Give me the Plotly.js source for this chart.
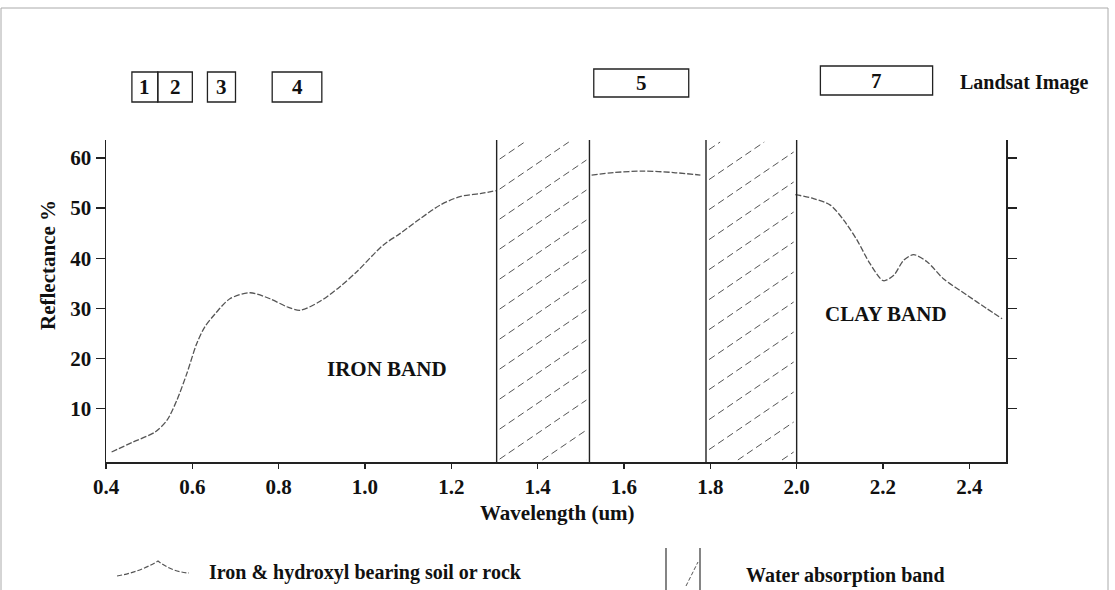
<!DOCTYPE html>
<html><head><meta charset="utf-8">
<script src="https://cdn.plot.ly/plotly-3.0.1.min.js"></script>
<style>html,body{margin:0;padding:0;background:#fff}#chart{width:1115px;height:590px}</style>
</head><body><div id="chart"></div>
<script>
// ---- data ----
const curveWavelength = [0.413,0.463,0.514,0.541,0.564,0.587,0.610,0.629,0.653,0.687,0.734,0.780,0.819,0.850,0.896,0.942,0.981,1.042,1.081,1.128,1.174,1.220,1.267,1.305,
  null,
  1.525,1.576,1.645,1.715,1.777,
  null,
  1.997,2.039,2.078,2.109,2.140,2.170,2.201,2.225,2.248,2.271,2.302,2.340,2.395,2.441,2.476];
const curveReflectance = [1.3,3.3,5.3,7.6,11.6,16.9,22.9,26.3,28.9,31.9,33.1,31.9,30.3,29.6,31.4,34.3,37.3,42.6,44.9,47.9,50.6,52.3,52.9,53.5,
  null,
  56.6,57.1,57.4,57.1,56.6,
  null,
  52.7,51.9,50.6,47.6,43.6,38.9,35.5,36.6,39.6,40.7,39.3,35.9,32.6,29.9,27.9];
const waterBandStart = [1.305, 1.79];
const waterBandEnd   = [1.52, 2.0];
const landsatBands = ['1','2','3','4','5','7'];
const landsatStart = [0.46, 0.52, 0.635, 0.785, 1.53, 2.055];
const landsatEnd   = [0.52, 0.60, 0.70, 0.90, 1.75, 2.315];
const xTickVals = [0.4,0.6,0.8,1.0,1.2,1.4,1.6,1.8,2.0,2.2,2.4];
const xTickText = ['0.4','0.6','0.8','1.0','1.2','1.4','1.6','1.8','2.0','2.2','2.4'];
const yTickVals = [10,20,30,40,50,60];
const yTickText = ['10','20','30','40','50','60'];
const labelIron = 'IRON BAND', labelClay = 'CLAY BAND';
const legendCurveText = 'Iron &amp; hydroxyl bearing soil or rock';
const legendBandText = 'Water absorption band';

// ---- layout geometry ----
const W = 1115, H = 590;
const M = {l:106, r:109, t:140, b:128};
const plotW = W - M.l - M.r, plotH = H - M.t - M.b;
const X0 = 0.4, X1 = 2.485, Y0 = -0.7, Y1 = 63.6;
const FONT = 'Liberation Serif, Times New Roman, serif';
const px = x => (x - M.l) / plotW;          // pixel -> paper x
const py = y => (H - M.b - y) / plotH;      // pixel -> paper y

const shapes = [];
const annotations = [];
function note(o) {
  annotations.push(Object.assign({showarrow:false, xanchor:'center', yanchor:'middle'}, o));
}

// water absorption bands: borders + hatching
for (let i = 0; i < waterBandStart.length; i++) {
  const xl = waterBandStart[i], xr = waterBandEnd[i];
  [xl, xr].forEach(x => shapes.push({type:'line', xref:'x', yref:'y', x0:x, x1:x, y0:Y0, y1:Y1,
    line:{color:'#222', width:1.4}}));
  const sx = plotW / (X1 - X0), sy = plotH / (Y1 - Y0);
  const bw = (xr - xl) * sx, slope = 0.68, step = 30;
  for (let c = -slope * bw + (i ? 12 : 4); c < plotH; c += step) {
    const ua = Math.max(0, -c / slope), ub = Math.min(bw, (plotH - c) / slope);
    if (ub - ua < 4) continue;
    shapes.push({type:'line', xref:'x', yref:'y',
      x0: xl + (ua + 3) / sx, y0: Y0 + (c + slope * (ua + 3)) / sy,
      x1: xl + (ub - 3) / sx, y1: Y0 + (c + slope * (ub - 3)) / sy,
      line:{color:'#555', width:1, dash:'7px,4px'}});
  }
}

// Landsat band boxes
const boxTop = [72,72,72,72,69,66], boxBot = [102,102,102,102,97,95];
for (let i = 0; i < landsatBands.length; i++) {
  shapes.push({type:'rect', xref:'x', yref:'paper', x0:landsatStart[i], x1:landsatEnd[i],
    y0:py(boxBot[i]), y1:py(boxTop[i]), line:{color:'#222', width:1.3}});
  note({xref:'x', yref:'paper', x:(landsatStart[i]+landsatEnd[i])/2, y:py((boxTop[i]+boxBot[i])/2),
    text:landsatBands[i], font:{family:FONT, size:21, color:'#111', weight:'bold'}});
}
note({xref:'paper', yref:'paper', x:px(1024), y:py(83), text:'Landsat Image',
  font:{family:FONT, size:20, color:'#111', weight:'bold'}});

// band labels
note({xref:'x', yref:'y', x:1.051, y:17.9, text:labelIron, font:{family:FONT, size:21, color:'#111', weight:'bold'}});
note({xref:'x', yref:'y', x:2.208, y:28.8, text:labelClay, font:{family:FONT, size:21, color:'#111', weight:'bold'}});

// axis titles
note({xref:'paper', yref:'paper', x:px(48), y:py(265), text:'Reflectance %', textangle:-90,
  font:{family:FONT, size:21, color:'#111', weight:'bold'}});
note({xref:'paper', yref:'paper', x:px(557), y:py(513), text:'Wavelength (um)',
  font:{family:FONT, size:21, color:'#111', weight:'bold'}});

// legend
shapes.push({type:'path', xref:'paper', yref:'paper',
  path:`M ${px(117)},${py(576)} Q ${px(140)},${py(572)} ${px(158)},${py(561)} Q ${px(172)},${py(572)} ${px(189)},${py(573)}`,
  line:{color:'#555', width:1.2, dash:'5px,2px'}});
note({xref:'paper', yref:'paper', x:px(207), y:py(572), xanchor:'left', text:legendCurveText,
  font:{family:FONT, size:20, color:'#111', weight:'bold'}});
[666, 700].forEach(x => shapes.push({type:'line', xref:'paper', yref:'paper', x0:px(x), x1:px(x),
  y0:py(548), y1:py(592), line:{color:'#333', width:1.2}}));
shapes.push({type:'line', xref:'paper', yref:'paper', x0:px(686), y0:py(586), x1:px(698), y1:py(562),
  line:{color:'#555', width:1, dash:'4px,2px'}});
note({xref:'paper', yref:'paper', x:px(744), y:py(575), xanchor:'left', text:legendBandText,
  font:{family:FONT, size:20, color:'#111', weight:'bold'}});

// page frame
shapes.push({type:'rect', xref:'paper', yref:'paper', x0:px(1), x1:px(1108), y0:py(595), y1:py(8),
  line:{color:'#aaa', width:1}, layer:'below'});

const trace = {
  x: curveWavelength, y: curveReflectance, type:'scatter', mode:'lines',
  line:{color:'#555', width:1.3, shape:'spline', smoothing:0.8, dash:'6px,2px'},
  connectgaps:false, hoverinfo:'skip'
};

const layout = {
  width:W, height:H, margin:M, paper_bgcolor:'#fff', plot_bgcolor:'#fff', showlegend:false,
  xaxis:{range:[X0,X1], tickvals:xTickVals, ticktext:xTickText, ticks:'outside', ticklen:5, tickwidth:1.3,
    tickcolor:'#222', showline:true, linecolor:'#222', linewidth:1.5, showgrid:false, zeroline:false,
    tickfont:{family:FONT, size:21, color:'#111', weight:'bold'}, fixedrange:true},
  yaxis:{range:[Y0,Y1], tickvals:yTickVals, ticktext:yTickText, ticks:'outside', ticklen:9, tickwidth:1.3,
    tickcolor:'#222', showline:true, mirror:'ticks', linecolor:'#222', linewidth:1.5, showgrid:false, zeroline:false,
    tickfont:{family:FONT, size:21, color:'#111', weight:'bold'}, fixedrange:true},
  shapes:shapes, annotations:annotations
};

Plotly.newPlot('chart', [trace], layout, {staticPlot:true, displayModeBar:false});
</script></body></html>
